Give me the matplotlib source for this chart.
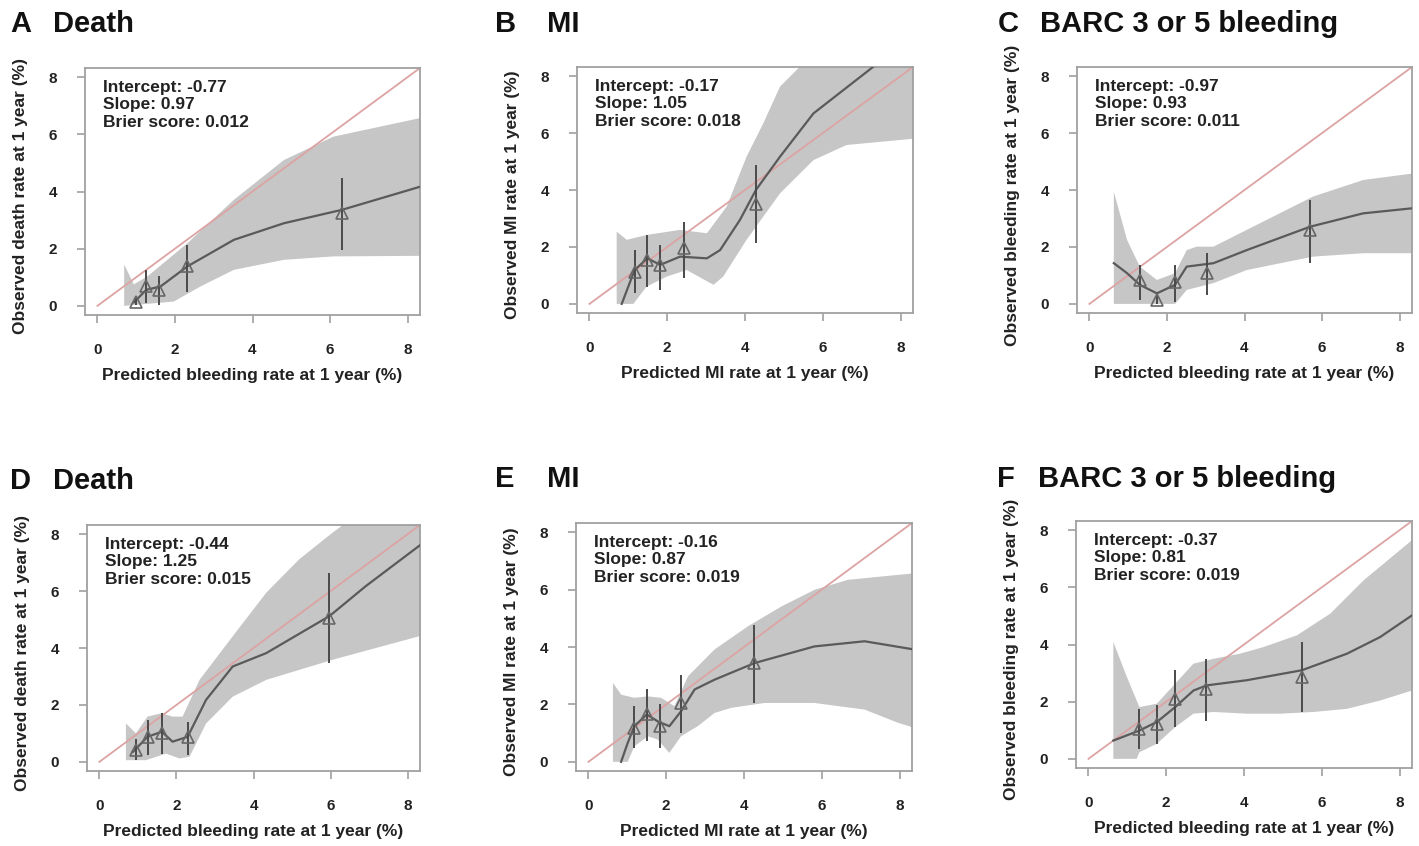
import numpy as np
import matplotlib
matplotlib.use("Agg")
import matplotlib.pyplot as plt

plt.rcParams['font.family'] = ['Liberation Sans', 'DejaVu Sans']
plt.rcParams['font.weight'] = 'bold'

# ---- panel A: Death (top) ----
a_px = [0.99, 1.26, 1.60, 2.32, 6.31]
a_py = [0.15, 0.68, 0.56, 1.38, 3.24]
a_lo = [0.03, 0.09, 0.03, 0.50, 1.96]
a_hi = [0.33, 1.26, 1.03, 2.13, 4.47]
a_cx = [0.94, 1.26, 1.63, 2.32, 3.52, 4.81, 6.31, 8.33]
a_cy = [0.12, 0.56, 0.68, 1.38, 2.31, 2.89, 3.36, 4.17]
a_ux = [0.69, 0.94, 1.29, 2.32, 3.52, 4.81, 6.09, 8.33]
a_uy = [1.45, 0.75, 1.03, 2.19, 3.71, 5.10, 5.92, 6.57]
a_lx = [0.69, 1.97, 2.66, 3.52, 4.81, 6.09, 8.33]
a_ly = [0.00, 0.15, 0.68, 1.26, 1.61, 1.73, 1.75]

# ---- panel B: MI (top) ----
b_px = [1.16, 1.49, 1.82, 2.43, 4.28]
b_py = [1.13, 1.54, 1.35, 1.95, 3.51]
b_lo = [0.37, 0.61, 0.49, 0.90, 2.13]
b_hi = [1.89, 2.42, 2.07, 2.89, 4.88]
b_cx = [0.83, 1.00, 1.16, 1.49, 1.82, 2.33, 3.02, 3.36, 3.87, 4.28, 4.90, 5.76, 7.30, 7.60]
b_cy = [0.00, 0.61, 1.19, 1.60, 1.37, 1.66, 1.60, 1.89, 2.95, 4.00, 5.17, 6.69, 8.33, 8.70]
b_ux = [0.70, 0.96, 1.47, 2.33, 3.02, 3.53, 4.04, 4.47, 4.90, 5.41, 5.90, 8.40]
b_uy = [2.54, 2.25, 2.42, 2.60, 2.48, 3.42, 5.17, 6.34, 7.63, 8.33, 9.20, 9.20]
b_lx = [0.70, 1.13, 1.47, 1.99, 2.50, 3.19, 3.44, 4.04, 4.90, 5.76, 6.61, 8.40]
b_ly = [0.00, 0.00, 0.61, 0.96, 1.19, 0.67, 0.96, 2.25, 3.88, 5.05, 5.58, 5.81]

# ---- panel C: BARC 3 or 5 bleeding (top) ----
c_px = [1.30, 1.74, 2.21, 3.04, 5.69]
c_py = [0.84, 0.14, 0.78, 1.10, 2.60]
c_lo = [0.14, 0.00, 0.08, 0.32, 1.43]
c_hi = [1.37, 0.26, 1.37, 1.78, 3.65]
c_cx = [0.63, 0.97, 1.30, 1.74, 2.21, 2.51, 2.86, 3.20, 4.06, 5.69, 7.06, 8.34]
c_cy = [1.43, 1.08, 0.67, 0.37, 0.67, 1.31, 1.37, 1.43, 1.89, 2.71, 3.18, 3.36]
c_ux = [0.63, 0.97, 1.30, 1.74, 2.21, 2.51, 2.77, 3.20, 4.06, 5.77, 7.06, 8.34]
c_uy = [3.94, 2.25, 1.31, 0.84, 1.08, 1.89, 2.01, 2.01, 2.60, 3.77, 4.35, 4.58]
c_lx = [0.63, 2.21, 2.51, 3.20, 4.06, 5.77, 7.06, 8.34]
c_ly = [0.00, 0.00, 0.49, 0.73, 1.19, 1.66, 1.78, 1.78]

# ---- panel D: Death (bottom) ----
d_px = [0.95, 1.25, 1.62, 2.29, 5.97]
d_py = [0.41, 0.88, 1.00, 0.88, 5.06]
d_lo = [0.06, 0.24, 0.29, 0.24, 3.47]
d_hi = [0.82, 1.47, 1.71, 1.41, 6.65]
d_cx = [0.87, 1.25, 1.62, 1.90, 2.29, 2.77, 3.46, 4.33, 5.97, 6.92, 8.33]
d_cy = [0.35, 0.88, 1.06, 0.71, 0.88, 2.18, 3.35, 3.82, 5.12, 6.18, 7.62]
d_ux = [0.69, 0.95, 1.25, 1.62, 1.90, 2.16, 2.60, 3.46, 4.33, 5.19, 6.06, 6.60, 8.40]
d_uy = [1.35, 1.00, 1.59, 1.71, 1.59, 1.59, 2.88, 4.41, 5.94, 7.12, 8.06, 8.60, 9.60]
d_lx = [0.69, 1.21, 1.73, 2.08, 2.34, 2.77, 3.46, 4.33, 6.06, 8.40]
d_ly = [0.06, 0.06, 0.29, 0.12, 0.18, 1.35, 2.29, 2.88, 3.59, 4.45]

# ---- panel E: MI (bottom) ----
e_px = [1.18, 1.50, 1.84, 2.38, 4.27]
e_py = [1.18, 1.65, 1.24, 2.05, 3.44]
e_lo = [0.49, 0.72, 0.49, 1.01, 2.05]
e_hi = [1.94, 2.52, 2.00, 3.04, 4.78]
e_cx = [0.84, 1.01, 1.18, 1.50, 1.78, 2.08, 2.38, 2.73, 3.24, 4.27, 5.81, 7.10, 8.39]
e_cy = [0.00, 0.66, 1.24, 1.65, 1.41, 1.24, 1.76, 2.52, 2.86, 3.44, 4.02, 4.20, 3.91]
e_ux = [0.63, 0.84, 1.18, 1.53, 1.87, 2.21, 2.56, 3.24, 4.10, 4.96, 5.81, 6.67, 8.39]
e_uy = [2.75, 2.34, 2.23, 2.28, 2.23, 1.94, 2.98, 3.91, 4.72, 5.41, 5.99, 6.34, 6.57]
e_lx = [0.63, 1.01, 1.18, 1.53, 1.78, 2.08, 2.38, 2.81, 3.24, 3.67, 4.53, 5.81, 7.10, 7.96, 8.39]
e_ly = [0.00, 0.00, 0.54, 0.89, 0.78, 0.31, 0.89, 1.24, 1.70, 1.88, 2.05, 2.05, 1.82, 1.36, 1.18]

# ---- panel F: BARC 3 or 5 bleeding (bottom) ----
f_px = [1.31, 1.76, 2.23, 3.03, 5.49]
f_py = [1.05, 1.23, 2.10, 2.45, 2.86]
f_lo = [0.35, 0.53, 1.11, 1.34, 1.64]
f_hi = [1.75, 1.87, 3.10, 3.50, 4.09]
f_cx = [0.64, 1.31, 1.76, 2.23, 2.70, 3.04, 4.07, 5.49, 6.65, 7.50, 8.32]
f_cy = [0.64, 0.99, 1.29, 1.81, 2.39, 2.57, 2.75, 3.10, 3.68, 4.26, 5.02]
f_ux = [0.64, 0.99, 1.31, 1.76, 2.23, 2.70, 3.22, 3.90, 4.50, 5.36, 6.22, 7.08, 8.32]
f_uy = [4.09, 2.86, 1.81, 1.93, 2.63, 3.33, 3.50, 3.68, 3.91, 4.32, 5.08, 6.25, 7.65]
f_lx = [0.64, 1.24, 1.31, 1.76, 2.23, 2.70, 3.22, 4.07, 4.93, 5.79, 6.65, 7.50, 8.32]
f_ly = [0.00, 0.00, 0.23, 0.53, 1.11, 1.58, 1.64, 1.58, 1.58, 1.64, 1.75, 2.04, 2.39]

letters = ["A", "B", "C", "D", "E", "F"]
titles = ["Death", "MI", "BARC 3 or 5 bleeding", "Death", "MI", "BARC 3 or 5 bleeding"]
xlabels = ["Predicted bleeding rate at 1 year (%)", "Predicted MI rate at 1 year (%)",
           "Predicted bleeding rate at 1 year (%)", "Predicted bleeding rate at 1 year (%)",
           "Predicted MI rate at 1 year (%)", "Predicted bleeding rate at 1 year (%)"]
ylabels = ["Observed death rate at 1 year (%)", "Observed MI rate at 1 year (%)",
           "Observed bleeding rate at 1 year (%)", "Observed death rate at 1 year (%)",
           "Observed MI rate at 1 year (%)", "Observed bleeding rate at 1 year (%)"]
intercepts = ["-0.77", "-0.17", "-0.97", "-0.44", "-0.16", "-0.37"]
slopes = ["0.97", "1.05", "0.93", "1.25", "0.87", "0.81"]
briers = ["0.012", "0.018", "0.011", "0.015", "0.019", "0.019"]
ticks = [0, 2, 4, 6, 8]

panels = [
    (a_px, a_py, a_lo, a_hi, a_cx, a_cy, a_ux, a_uy, a_lx, a_ly),
    (b_px, b_py, b_lo, b_hi, b_cx, b_cy, b_ux, b_uy, b_lx, b_ly),
    (c_px, c_py, c_lo, c_hi, c_cx, c_cy, c_ux, c_uy, c_lx, c_ly),
    (d_px, d_py, d_lo, d_hi, d_cx, d_cy, d_ux, d_uy, d_lx, d_ly),
    (e_px, e_py, e_lo, e_hi, e_cx, e_cy, e_ux, e_uy, e_lx, e_ly),
    (f_px, f_py, f_lo, f_hi, f_cx, f_cy, f_ux, f_uy, f_lx, f_ly),
]

# axes boxes in pixels: left, right, top, bottom
boxes = [(85, 420, 68, 315), (577, 913, 67, 313), (1077, 1412, 67, 313),
         (87, 420, 525, 771), (576, 912, 523, 771), (1076, 1412, 521, 768)]
# title anchor: letter x, title x, center y (pixels)
title_pos = [(10, 53, 24), (495, 547, 24), (998, 1040, 24),
             (10, 53, 481), (495, 547, 479), (997, 1038, 479)]

W, H = 1419, 846
fig = plt.figure(figsize=(W / 100, H / 100), dpi=100)

box_col = "#a0a0a0"
band_col = "#c6c6c6"
curve_col = "#5a5a5a"
ref_col = "#dda3a3"

for i, (px, py, lo, hi, cx, cy, ux, uy, lx, ly) in enumerate(panels):
    l, r, t, b = boxes[i]
    ax = fig.add_axes([l / W, 1 - b / H, (r - l) / W, (b - t) / H])

    # confidence band
    bx = np.r_[ux, lx[::-1]]
    by = np.r_[uy, ly[::-1]]
    ax.fill(bx, by, color=band_col, lw=0, zorder=1)

    # ideal line
    ax.plot([0, 9], [0, 9], color=ref_col, lw=1.3, zorder=2)

    # calibration curve
    ax.plot(cx, cy, color=curve_col, lw=1.6, zorder=3)

    # grouped observed points with CIs
    ax.vlines(px, lo, hi, color="#4a4a4a", lw=1.4, zorder=4)
    ax.plot(px, py, linestyle="none", marker="^", markersize=8, markerfacecolor="none",
            markeredgecolor="#666666", markeredgewidth=1.2, zorder=5)

    ax.set_xlim(-0.32, 8.32)
    ax.set_ylim(-0.32, 8.32)
    ax.set_xticks(ticks)
    ax.set_yticks(ticks)
    ax.tick_params(direction="out", length=6, width=1.2, color=box_col, pad=14,
                   labelsize=11, labelcolor="#222222")
    for lab in ax.get_xticklabels() + ax.get_yticklabels():
        lab.set_fontweight("bold")
    for s in ax.spines.values():
        s.set_color(box_col)
        s.set_linewidth(1.3)

    ax.set_xlabel(xlabels[i], fontsize=12.5, fontweight="bold", color="#222222")
    ax.set_ylabel(ylabels[i], fontsize=12.5, fontweight="bold", color="#222222")
    ax.xaxis.set_label_coords(0.5, -0.215)
    ax.yaxis.set_label_coords(-0.17, 0.48)

    ax.text(0.15, 7.9,
            "Intercept: " + intercepts[i] + "\nSlope: " + slopes[i] + "\nBrier score: " + briers[i],
            fontsize=12.5, fontweight="bold", color="#222222", va="top", ha="left",
            linespacing=1.2, zorder=6)

    lx0, tx0, ty0 = title_pos[i]
    fig.text(lx0 / W, 1 - ty0 / H, letters[i], fontsize=21, fontweight="bold",
             ha="left", va="center", color="#111111")
    fig.text(tx0 / W, 1 - ty0 / H, titles[i], fontsize=21, fontweight="bold",
             ha="left", va="center", color="#111111")

fig.savefig("out.png", dpi=100)
